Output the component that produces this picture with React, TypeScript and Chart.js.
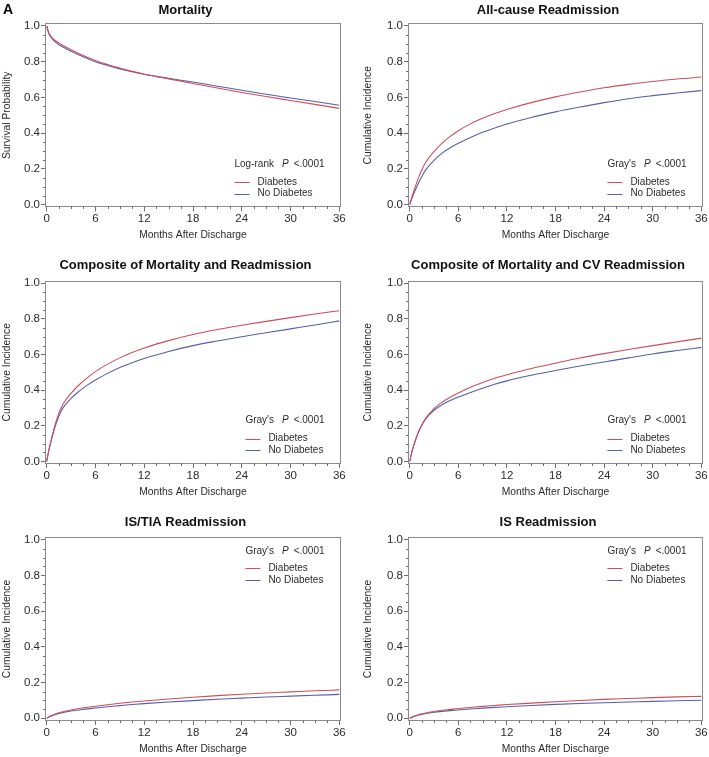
import React, { useEffect, useRef } from "react";
import { Chart, registerables } from "chart.js";

Chart.register(...registerables);

const FONT = "'Liberation Sans', Arial, sans-serif";
const RED = "#cf4d5c";
const BLUE = "#5461a6";
const FRAME = "#8a8a8a";
const TICK = "#6e6e6e";
const TEXT = "#2b2b2b";

// ---- data ----
const months = [0, 0.25, 0.5, 1, 1.5, 2, 3, 4, 5, 6, 7.5, 9, 10.5, 12, 15, 18, 21, 24, 27, 30, 33, 36];
const xTickValues = [0, 6, 12, 18, 24, 30, 36];
const yTickValues = [0, 0.2, 0.4, 0.6, 0.8, 1.0];
const seriesLabels = ["Diabetes", "No Diabetes"];
const pValueText = "<.0001";

const mortalityDiabetes = [1.0, 0.963, 0.944, 0.92, 0.904, 0.891, 0.867, 0.845, 0.825, 0.807, 0.784, 0.764, 0.746, 0.73, 0.704, 0.678, 0.653, 0.628, 0.605, 0.583, 0.561, 0.539];
const mortalityNoDiabetes = [1.0, 0.958, 0.938, 0.912, 0.895, 0.882, 0.858, 0.837, 0.818, 0.8, 0.779, 0.76, 0.744, 0.73, 0.707, 0.686, 0.663, 0.64, 0.618, 0.597, 0.577, 0.556];

const allCauseDiabetes = [0, 0.04, 0.075, 0.14, 0.195, 0.239, 0.297, 0.344, 0.382, 0.414, 0.452, 0.483, 0.51, 0.533, 0.571, 0.603, 0.63, 0.654, 0.673, 0.689, 0.703, 0.714];
const allCauseNoDiabetes = [0, 0.032, 0.061, 0.113, 0.158, 0.196, 0.248, 0.288, 0.318, 0.343, 0.376, 0.405, 0.429, 0.451, 0.488, 0.519, 0.546, 0.571, 0.593, 0.61, 0.625, 0.638];

const compositeDiabetes = [0, 0.06, 0.11, 0.2, 0.27, 0.32, 0.382, 0.43, 0.47, 0.504, 0.546, 0.581, 0.611, 0.637, 0.678, 0.712, 0.74, 0.764, 0.786, 0.807, 0.827, 0.846];
const compositeNoDiabetes = [0, 0.058, 0.105, 0.19, 0.255, 0.3, 0.354, 0.394, 0.428, 0.457, 0.494, 0.527, 0.554, 0.578, 0.617, 0.65, 0.676, 0.7, 0.722, 0.744, 0.766, 0.789];

const compositeCVDiabetes = [0, 0.05, 0.09, 0.155, 0.205, 0.243, 0.296, 0.332, 0.36, 0.384, 0.416, 0.443, 0.467, 0.486, 0.521, 0.551, 0.58, 0.605, 0.628, 0.65, 0.671, 0.692];
const compositeCVNoDiabetes = [0, 0.05, 0.09, 0.155, 0.204, 0.24, 0.287, 0.318, 0.341, 0.361, 0.387, 0.411, 0.433, 0.452, 0.483, 0.51, 0.535, 0.558, 0.581, 0.603, 0.622, 0.64];

const isTiaDiabetes = [0, 0.008, 0.014, 0.023, 0.031, 0.037, 0.047, 0.055, 0.062, 0.068, 0.076, 0.084, 0.091, 0.097, 0.108, 0.118, 0.127, 0.135, 0.142, 0.148, 0.154, 0.159];
const isTiaNoDiabetes = [0, 0.007, 0.012, 0.02, 0.027, 0.032, 0.041, 0.047, 0.053, 0.058, 0.065, 0.071, 0.077, 0.082, 0.091, 0.099, 0.107, 0.113, 0.119, 0.124, 0.129, 0.134];

const isDiabetes = [0, 0.006, 0.011, 0.019, 0.025, 0.03, 0.038, 0.045, 0.05, 0.055, 0.061, 0.067, 0.072, 0.077, 0.085, 0.093, 0.1, 0.106, 0.111, 0.116, 0.12, 0.123];
const isNoDiabetes = [0, 0.005, 0.01, 0.017, 0.022, 0.027, 0.034, 0.039, 0.043, 0.047, 0.052, 0.057, 0.061, 0.065, 0.072, 0.078, 0.083, 0.087, 0.091, 0.095, 0.098, 0.101];

type PanelDef = {
  title: string;
  yTitle: string;
  test: string;
  dia: number[];
  nodia: number[];
  legendAt: "top" | "bottom";
  col: number;
  row: number;
};

const panels: PanelDef[] = [
  { title: "Mortality", yTitle: "Survival Probability", test: "Log-rank", dia: mortalityDiabetes, nodia: mortalityNoDiabetes, legendAt: "bottom", col: 0, row: 0 },
  { title: "All-cause Readmission", yTitle: "Cumulative Incidence", test: "Gray's", dia: allCauseDiabetes, nodia: allCauseNoDiabetes, legendAt: "bottom", col: 1, row: 0 },
  { title: "Composite of Mortality and Readmission", yTitle: "Cumulative Incidence", test: "Gray's", dia: compositeDiabetes, nodia: compositeNoDiabetes, legendAt: "bottom", col: 0, row: 1 },
  { title: "Composite of Mortality and CV Readmission", yTitle: "Cumulative Incidence", test: "Gray's", dia: compositeCVDiabetes, nodia: compositeCVNoDiabetes, legendAt: "bottom", col: 1, row: 1 },
  { title: "IS/TIA Readmission", yTitle: "Cumulative Incidence", test: "Gray's", dia: isTiaDiabetes, nodia: isTiaNoDiabetes, legendAt: "top", col: 0, row: 2 },
  { title: "IS Readmission", yTitle: "Cumulative Incidence", test: "Gray's", dia: isDiabetes, nodia: isNoDiabetes, legendAt: "top", col: 1, row: 2 },
];

// ---- layout ----
const COLS = [
  { x: 0, w: 354, yAxisW: 45, padR: 13, yTitlePad: 1 },
  { x: 354, w: 355, yAxisW: 54, padR: 6, yTitlePad: 8 },
];
const ROWS = [
  { y: 0, h: 250, padT: 23.3, xAxisH: 42.7, xTitlePad: 9, titleY: 10 },
  { y: 250, h: 255, padT: 30.6, xAxisH: 41, xTitlePad: 7, titleY: 15 },
  { y: 505, h: 252, padT: 32, xAxisH: 36, xTitlePad: 2, titleY: 17 },
];

const decoPlugin = {
  id: "panelDeco",
  afterDraw(chart: any, _args: any, opts: any) {
    const p: PanelDef = opts.panel;
    const row = ROWS[p.row];
    const { ctx, chartArea: a } = chart;
    const xs = chart.scales.x;
    const ys = chart.scales.y;
    ctx.save();

    // frame
    ctx.strokeStyle = FRAME;
    ctx.lineWidth = 1;
    const l = Math.round(a.left) + 0.5;
    const t = Math.round(a.top) + 0.5;
    const r = Math.round(a.right) - 0.5;
    const b = Math.round(a.bottom) - 0.5;
    ctx.strokeRect(l, t, r - l, b - t);

    // minor ticks
    ctx.strokeStyle = TICK;
    ctx.beginPath();
    for (let k = 1; k < 24; k++) {
      if (k % 4 === 0) continue;
      const px = Math.round(xs.getPixelForValue(k * 1.5)) + 0.5;
      ctx.moveTo(px, b);
      ctx.lineTo(px, b + 2.5);
    }
    for (let k = 1; k < 20; k++) {
      if (k % 4 === 0) continue;
      const py = Math.round(ys.getPixelForValue(k * 0.05)) + 0.5;
      ctx.moveTo(l, py);
      ctx.lineTo(l - 2.5, py);
    }
    ctx.stroke();

    // title
    ctx.fillStyle = "#111";
    ctx.font = `bold 13px ${FONT}`;
    ctx.textAlign = "center";
    ctx.textBaseline = "middle";
    ctx.fillText(p.title, (a.left + a.right) / 2 - 7.5, row.titleY);

    // legend
    ctx.textAlign = "left";
    ctx.fillStyle = TEXT;
    ctx.font = `10px ${FONT}`;
    const wLabel = ctx.measureText(p.test).width;
    const wVal = ctx.measureText(pValueText).width;
    ctx.font = `italic 10px ${FONT}`;
    const wP = ctx.measureText("P").width;
    const gap1 = 8;
    const gap2 = 5;
    const total = wLabel + gap1 + wP + gap2 + wVal;
    const x0 = a.right - 16.5 - total;
    const yl =
      p.legendAt === "bottom"
        ? [a.bottom - 43.3, a.bottom - 25.3, a.bottom - 13.8]
        : [a.top + 14.7, a.top + 31.3, a.top + 43.3];
    ctx.font = `10px ${FONT}`;
    ctx.fillText(p.test, x0, yl[0]);
    ctx.font = `italic 10px ${FONT}`;
    ctx.fillText("P", x0 + wLabel + gap1, yl[0]);
    ctx.font = `10px ${FONT}`;
    ctx.fillText(pValueText, x0 + wLabel + gap1 + wP + gap2, yl[0]);

    const colors = [RED, BLUE];
    for (let i = 0; i < 2; i++) {
      const y = Math.round(yl[i + 1]) + 0.5;
      ctx.strokeStyle = colors[i];
      ctx.lineWidth = 1;
      ctx.beginPath();
      ctx.moveTo(x0, y);
      ctx.lineTo(x0 + 15, y);
      ctx.stroke();
      ctx.fillStyle = TEXT;
      ctx.fillText(seriesLabels[i], x0 + 23, yl[i + 1]);
    }
    ctx.restore();
  },
};

function Panel({ p }: { p: PanelDef }) {
  const ref = useRef<HTMLCanvasElement>(null);
  const col = COLS[p.col];
  const row = ROWS[p.row];
  useEffect(() => {
    if (!ref.current) return;
    const chart = new Chart(ref.current, {
      type: "line",
      data: {
        datasets: [
          {
            label: seriesLabels[0],
            data: months.map((m, i) => ({ x: m, y: p.dia[i] })),
            borderColor: RED,
            borderWidth: 1.1,
            pointRadius: 0,
            cubicInterpolationMode: "monotone",
            fill: false,
          },
          {
            label: seriesLabels[1],
            data: months.map((m, i) => ({ x: m, y: p.nodia[i] })),
            borderColor: BLUE,
            borderWidth: 1.1,
            pointRadius: 0,
            cubicInterpolationMode: "monotone",
            fill: false,
          },
        ],
      },
      options: {
        animation: false,
        responsive: false,
        devicePixelRatio: 1,
        events: [],
        layout: { padding: { left: 0, right: col.padR, top: row.padT, bottom: 0 } },
        plugins: {
          legend: { display: false },
          title: { display: false },
          tooltip: { enabled: false },
          panelDeco: { panel: p },
        } as any,
        scales: {
          x: {
            type: "linear",
            min: -0.21,
            max: 36.21,
            afterBuildTicks: (s: any) => {
              s.ticks = xTickValues.map((v) => ({ value: v }));
            },
            afterFit: (s: any) => {
              s.height = row.xAxisH;
              s.paddingLeft = 0;
              s.paddingRight = 0;
            },
            ticks: {
              font: { family: FONT, size: 11.5 },
              color: TEXT,
              padding: 1,
              maxRotation: 0,
              autoSkip: false,
            },
            grid: { drawOnChartArea: false, tickLength: 4, color: TICK },
            border: { display: false },
            title: {
              display: true,
              text: "Months After Discharge",
              font: { family: FONT, size: 10.3 },
              color: TEXT,
              padding: { top: 0, bottom: row.xTitlePad },
            },
          },
          y: {
            type: "linear",
            min: -0.015,
            max: 1.015,
            afterBuildTicks: (s: any) => {
              s.ticks = yTickValues.map((v) => ({ value: v }));
            },
            afterFit: (s: any) => {
              s.width = col.yAxisW;
              s.paddingTop = 0;
              s.paddingBottom = 0;
            },
            ticks: {
              font: { family: FONT, size: 11.5 },
              color: TEXT,
              padding: 1,
              callback: (v: any) => Number(v).toFixed(1),
            },
            grid: { drawOnChartArea: false, tickLength: 4, color: TICK },
            border: { display: false },
            title: {
              display: true,
              text: p.yTitle,
              font: { family: FONT, size: 10.3 },
              color: TEXT,
              padding: { top: col.yTitlePad, bottom: 0 },
            },
          },
        },
      } as any,
      plugins: [decoPlugin],
    });
    return () => chart.destroy();
  }, []);
  return (
    <canvas
      ref={ref}
      width={col.w}
      height={row.h}
      style={{ position: "absolute", left: col.x, top: row.y, width: col.w, height: row.h }}
    />
  );
}

export default function App() {
  return (
    <div style={{ position: "absolute", left: 0, top: 0, width: 709, height: 757, background: "#fff", overflow: "hidden" }}>
      {panels.map((p, i) => (
        <Panel key={i} p={p} />
      ))}
      <div
        style={{
          position: "absolute",
          left: 3,
          top: 2,
          fontFamily: FONT,
          fontWeight: "bold",
          fontSize: 14,
          lineHeight: 1,
          color: "#000",
        }}
      >
        A
      </div>
    </div>
  );
}
